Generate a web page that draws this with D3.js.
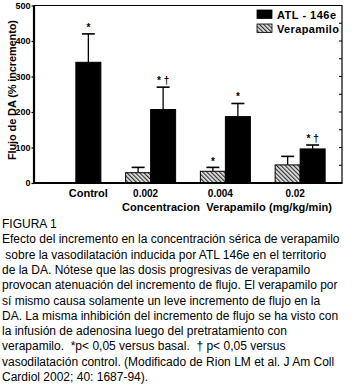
<!DOCTYPE html>
<html><head><meta charset="utf-8">
<script src="https://cdn.jsdelivr.net/npm/d3@7/dist/d3.min.js"></script>
<style>
body{margin:0;background:#fff;}
svg{display:block;}
</style></head>
<body>
<script>
const categories = ["Control","0.002","0.004","0.02"];
const seriesNames = ["Verapamilo","ATL - 146e"];
const atlValues = [340, 207, 187, 96];
const atlErrors = [80, 63, 37, 11];
const verValues = [null, 29, 33, 51];
const verErrors = [null, 15, 11, 24];
const atlSig = ["*", "* \u2020", "*", "* \u2020"];
const verSig = [null, null, "*", null];
const yTicks = [0,100,200,300,400,500];
const yMinorTicks = [50,100,150,200,250,300,350,400,450];
const yTitle = "Flujo de DA (% incremento)";
const xTitle = "Concentracion  Verapamilo (mg/kg/min)";
const captionLines = [
  "FIGURA 1",
  "Efecto del incremento en la concentración sérica de verapamilo",
  " sobre la vasodilatación inducida por ATL 146e en el territorio",
  "de la DA. Nótese que las dosis progresivas de verapamilo",
  "provocan atenuación del incremento de flujo. El verapamilo por",
  "sí mismo causa solamente un leve incremento de flujo en la",
  "DA. La misma inhibición del incremento de flujo se ha visto con",
  "la infusión de adenosina luego del pretratamiento con",
  "verapamilo.  *p< 0,05 versus basal.  \u2020 p< 0,05 versus",
  "vasodilatación control. (Modificado de Rion LM et al. J Am Coll",
  "Cardiol 2002; 40: 1687-94)."
];

const W = 355, H = 386;
const svg = d3.select("body").append("svg").attr("width", W).attr("height", H);
const plot = {l: 34, r: 342, t: 5.5, b: 183};

const defs = svg.append("defs");
const pat = defs.append("pattern").attr("id","hatch").attr("patternUnits","userSpaceOnUse")
  .attr("width",3).attr("height",3).attr("patternTransform","rotate(-45)");
pat.append("rect").attr("width",3).attr("height",3).attr("fill","#e6e6e6");
pat.append("line").attr("x1",0.6).attr("y1",0).attr("x2",0.6).attr("y2",3)
  .attr("stroke","#333").attr("stroke-width",1.2);

const x0 = d3.scaleBand().domain(categories).range([plot.l, plot.r]).paddingInner(0).paddingOuter(0.06);
const y = d3.scaleLinear().domain([0,500]).range([plot.b, plot.t]);
const sub = d3.scaleBand().domain(seriesNames).range([-25, 25]);
const center = c => x0(c) + x0.bandwidth()/2;

const font = "Arial, 'Liberation Sans', sans-serif";

// frame (top, right)
svg.append("path")
  .attr("d", `M${plot.l},${plot.t}H${plot.r}V${plot.b}`)
  .attr("fill","none").attr("stroke","#000").attr("stroke-width",1.2);

// right minor ticks
svg.append("g").selectAll("line").data(yMinorTicks).join("line")
  .attr("x1", plot.r - 3).attr("x2", plot.r)
  .attr("y1", d => y(d)).attr("y2", d => y(d))
  .attr("stroke","#000").attr("stroke-width",1);

// bars
const data = categories.map((c,i) => ({c, i}));
const g = svg.append("g");
// Verapamilo
data.filter(d => verValues[d.i] != null).forEach(d => {
  const bx = center(d.c) + sub("Verapamilo");
  const bw = sub.bandwidth();
  const top = y(verValues[d.i] + verErrors[d.i]);
  g.append("line").attr("x1", bx + bw/2).attr("x2", bx + bw/2)
    .attr("y1", y(verValues[d.i])).attr("y2", top).attr("stroke","#000").attr("stroke-width",1.3);
  g.append("line").attr("x1", bx + bw/2 - 6.5).attr("x2", bx + bw/2 + 6.5)
    .attr("y1", top).attr("y2", top).attr("stroke","#000").attr("stroke-width",1.6);
  g.append("rect").attr("x", bx).attr("width", bw)
    .attr("y", y(verValues[d.i])).attr("height", y(0) - y(verValues[d.i]))
    .attr("fill","url(#hatch)").attr("stroke","#000").attr("stroke-width",1);
  if (verSig[d.i]) g.append("text").attr("x", bx + bw/2).attr("y", top - 2)
    .attr("text-anchor","middle").attr("font-family",font).attr("font-weight","bold")
    .attr("font-size",10).text(verSig[d.i]);
});
// ATL
data.forEach(d => {
  const bx = center(d.c) + sub("ATL - 146e");
  const bw = sub.bandwidth();
  const top = y(atlValues[d.i] + atlErrors[d.i]);
  g.append("line").attr("x1", bx + bw/2).attr("x2", bx + bw/2)
    .attr("y1", y(atlValues[d.i])).attr("y2", top).attr("stroke","#000").attr("stroke-width",1.3);
  g.append("line").attr("x1", bx + bw/2 - 6.5).attr("x2", bx + bw/2 + 6.5)
    .attr("y1", top).attr("y2", top).attr("stroke","#000").attr("stroke-width",1.6);
  g.append("rect").attr("x", bx).attr("width", bw)
    .attr("y", y(atlValues[d.i])).attr("height", y(0) - y(atlValues[d.i]))
    .attr("fill","#000").attr("stroke","#000").attr("stroke-width",1);
  g.append("text").attr("x", bx + bw/2).attr("y", top - 3)
    .attr("text-anchor","middle").attr("font-family",font).attr("font-weight","bold")
    .attr("font-size",10).text(atlSig[d.i]);
});

// left axis
const yAxis = svg.append("g").attr("transform",`translate(${plot.l},0)`)
  .call(d3.axisLeft(y).tickValues(yTicks).tickSize(2.5).tickPadding(1));
yAxis.select(".domain").attr("stroke-width",2.2).attr("d", `M0,${plot.t}V${plot.b}`);
yAxis.selectAll(".tick line").attr("stroke-width",1.2);
yAxis.selectAll("text").attr("font-family",font).attr("font-weight","bold").attr("font-size",9).attr("fill","#000");

// bottom axis line
svg.append("line").attr("x1", plot.l - 1).attr("x2", plot.r + 0.6)
  .attr("y1", plot.b).attr("y2", plot.b).attr("stroke","#000").attr("stroke-width",2.2);

// category labels
svg.append("g").selectAll("text").data(categories).join("text")
  .attr("x", (d,i) => i === 0 ? center(d) + sub("ATL - 146e") + sub.bandwidth()/2 : center(d) - 5)
  .attr("y", 197)
  .attr("text-anchor","middle").attr("font-family",font).attr("font-weight","bold")
  .attr("font-size", (d,i) => i === 0 ? 11 : 10)
  .text(d => d);

// x title
svg.append("text").attr("x", 122).attr("y", 211)
  .attr("font-family",font).attr("font-weight","bold").attr("font-size",11)
  .attr("textLength", 210).attr("lengthAdjust","spacing")
  .style("white-space","pre")
  .text(xTitle);

// y title
svg.append("text").attr("transform", `translate(16,${(20+160)/2}) rotate(-90)`)
  .attr("text-anchor","middle")
  .attr("font-family",font).attr("font-weight","bold").attr("font-size",11)
  .attr("textLength", 140).attr("lengthAdjust","spacing")
  .text(yTitle);

// legend
const legendNames = ["ATL - 146e","Verapamilo"];
const leg = svg.append("g").attr("transform","translate(257,10)");
legendNames.forEach((n,i) => {
  leg.append("rect").attr("x",0).attr("y", i*14).attr("width",15).attr("height",8.5)
    .attr("fill", n === "Verapamilo" ? "url(#hatch)" : "#000").attr("stroke","#000").attr("stroke-width",0.8);
  leg.append("text").attr("x",20).attr("y", i*14 + 8.5)
    .attr("font-family",font).attr("font-weight","bold").attr("font-size",11)
    .attr("textLength", n === "Verapamilo" ? 62 : 59).attr("lengthAdjust","spacing")
    .text(n);
});

// caption
svg.append("g").selectAll("text").data(captionLines).join("text")
  .attr("x", 2).attr("y", (d,i) => 228 + i*15.3)
  .attr("font-family",font).attr("font-size",12).attr("fill","#000")
  .style("white-space","pre")
  .text(d => d);
</script>
</body></html>
